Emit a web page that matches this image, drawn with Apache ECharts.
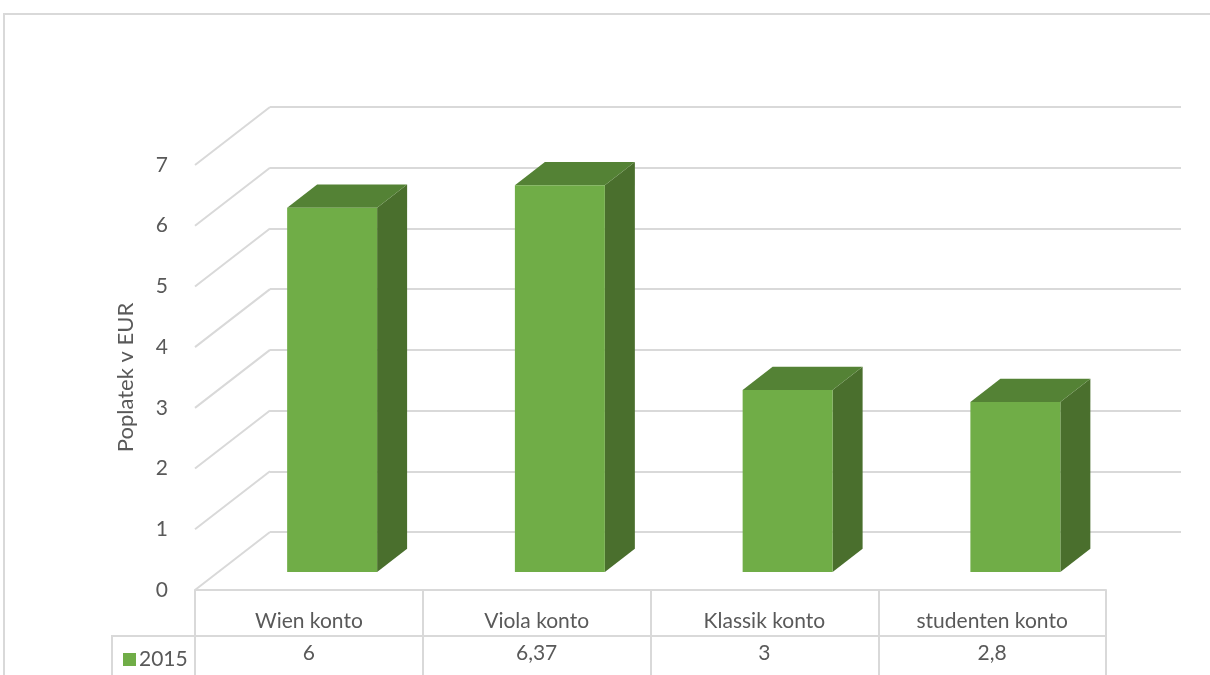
<!DOCTYPE html>
<html>
<head>
<meta charset="utf-8">
<script src="https://cdn.jsdelivr.net/npm/echarts@6/dist/echarts.min.js"></script>
<style>
html,body{margin:0;padding:0;background:#fff;}
#c{width:1210px;height:675px;}
</style>
</head>
<body>
<div id="c"></div>
<script>
var categories = ['Wien konto', 'Viola konto', 'Klassik konto', 'studenten konto'];
var values2015 = [6, 6.37, 3, 2.8];
var seriesName = '2015';
var yTicks = [0, 1, 2, 3, 4, 5, 6, 7];
var axisTitle = 'Poplatek v EUR';

var FONT = 'Lato, "Open Sans", sans-serif';
var FS = 21;
var TXT = '#595959';
var GRID = '#d9d9d9';
// oblique depth vector (front -> back)
var DX = 75, DY = -58;
var BAR_POS = 0.69;   // fraction of depth from back to bar front face
var BAR_DEPTH = 0.4;  // bar depth as fraction of full depth
var BAR_W = 0.395;    // bar width as fraction of band

var chart = echarts.init(document.getElementById('c'));

function fmt(v){ return String(v).replace('.', ','); }

chart.setOption({
  animation: false,
  textStyle: { fontFamily: FONT },
  grid: [
    { left: 270, right: 29, top: 107, bottom: 143 },   // back wall
    { left: 195, right: 104, top: 165, bottom: 85 }    // front plane
  ],
  legend: {
    data: [seriesName], left: 118, top: 644, icon: 'rect',
    itemWidth: 13, itemHeight: 13, itemGap: 4,
    textStyle: { color: TXT, fontSize: FS, fontFamily: FONT, padding: [0,0,0,-2] }
  },
  xAxis: [
    { type: 'category', gridIndex: 0, data: categories, show: false },
    { type: 'category', gridIndex: 1, data: categories, position: 'bottom',
      axisLine: { show: true, lineStyle: { color: GRID, width: 2 } },
      axisTick: { show: true, interval: 0, length: 86, lineStyle: { color: GRID, width: 2 } },
      axisLabel: { interval: 0, margin: 21, color: TXT, fontSize: FS, fontFamily: FONT } },
    { type: 'category', gridIndex: 1, data: values2015.map(fmt), position: 'bottom', offset: 46,
      axisLine: { show: true, lineStyle: { color: GRID, width: 2 } },
      axisTick: { show: false },
      axisLabel: { interval: 0, margin: 7, color: TXT, fontSize: FS, fontFamily: FONT } }
  ],
  yAxis: [
    { type: 'value', gridIndex: 0, min: 0, max: 7, interval: 1,
      axisLine: { show: false }, axisTick: { show: false }, axisLabel: { show: false },
      splitLine: { show: true, lineStyle: { color: GRID, width: 2 } } },
    { type: 'value', gridIndex: 1, min: 0, max: 7, interval: 1,
      name: axisTitle, nameLocation: 'middle', nameGap: 58,
      nameTextStyle: { color: TXT, fontSize: 22, fontFamily: FONT },
      axisLine: { show: false }, axisTick: { show: false }, splitLine: { show: false },
      axisLabel: { color: TXT, fontSize: FS, fontFamily: FONT, margin: 27 } }
  ],
  graphic: [
    { type: 'rect', shape: { x: 4, y: 14, width: 1300, height: 700 }, silent: true,
      style: { fill: 'none', stroke: GRID, lineWidth: 2 }, z: -10 },
    { type: 'polyline', shape: { points: [[195, 636], [112, 636], [112, 680]] }, silent: true,
      style: { stroke: GRID, lineWidth: 2, fill: 'none' } }
  ],
  series: [
    {
      name: 'walls', type: 'custom', xAxisIndex: 0, yAxisIndex: 0, silent: true,
      data: yTicks, z: 1,
      renderItem: function (params, api) {
        var cs = params.coordSys;
        var y = api.coord([0, api.value(0)])[1];
        return { type: 'line', shape: { x1: cs.x, y1: y, x2: cs.x - DX, y2: y - DY },
          style: { stroke: GRID, lineWidth: 2 } };
      },
      encode: { y: 0 }
    },
    {
      name: seriesName, type: 'custom', xAxisIndex: 0, yAxisIndex: 0, z: 5,
      itemStyle: { color: '#70ad47' },
      data: values2015.map(function (v, i) { return [i, v]; }),
      encode: { x: 0, y: 1 },
      renderItem: function (params, api) {
        var i = api.value(0), v = api.value(1);
        var top = api.coord([i, v]), base = api.coord([i, 0]);
        var band = api.size([1, 0])[0];
        var w = band * BAR_W;
        var ox = -DX * BAR_POS, oy = -DY * BAR_POS;
        var dx = DX * BAR_DEPTH, dy = DY * BAR_DEPTH;
        var xl = top[0] + ox - w / 2, xr = xl + w;
        var yt = top[1] + oy, yb = base[1] + oy;
        return { type: 'group', children: [
          { type: 'polygon', shape: { points: [[xr, yt], [xr + dx, yt + dy], [xr + dx, yb + dy], [xr, yb]] },
            style: { fill: '#4a6f2d' } },
          { type: 'polygon', shape: { points: [[xl, yt], [xr, yt], [xr + dx, yt + dy], [xl + dx, yt + dy]] },
            style: { fill: '#548235' } },
          { type: 'rect', shape: { x: xl, y: yt, width: w, height: yb - yt },
            style: { fill: '#70ad47' } }
        ] };
      }
    }
  ]
});
</script>
</body>
</html>
